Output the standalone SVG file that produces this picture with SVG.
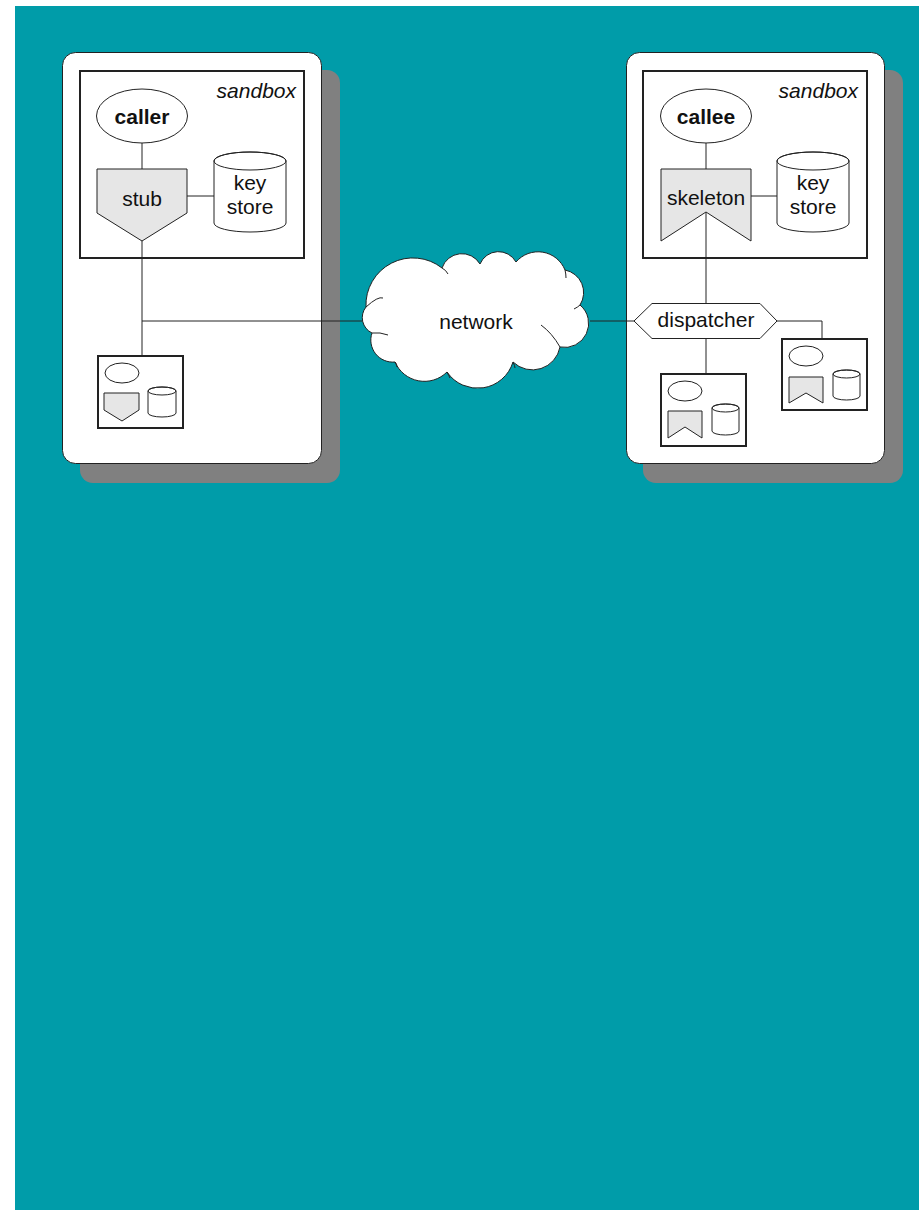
<svg xmlns="http://www.w3.org/2000/svg" width="919" height="1210" viewBox="0 0 919 1210">
<style>
.t{font-family:"Liberation Sans",Arial,sans-serif;font-size:21px;fill:#111;text-anchor:middle}
.b{font-weight:bold}
.i{font-style:italic;text-anchor:end}
.panel{fill:#fff;stroke:#222;stroke-width:1}
.shadow{fill:#808080}
.box{fill:#fff;stroke:#222;stroke-width:2}
.sh{fill:#fff;stroke:#222;stroke-width:1}
.g{fill:#e6e6e6;stroke:#222;stroke-width:1}
.ln{fill:none;stroke:#222;stroke-width:1}
</style>
<rect x="15" y="6" width="904" height="1204" fill="#009CA9"/>
<g id="left-panel">
<rect class="shadow" x="80" y="70" width="260" height="413" rx="13"/>
<rect class="panel" x="62.5" y="52.5" width="259" height="411" rx="13"/>
<rect class="box" x="80" y="71" width="224" height="187"/>
<text class="t i" x="296" y="98">sandbox</text>
</g>
<g id="right-panel">
<rect class="shadow" x="643" y="70" width="260" height="413" rx="13"/>
<rect class="panel" x="626.5" y="52.5" width="258" height="411" rx="13"/>
<rect class="box" x="643" y="71" width="224" height="187"/>
<text class="t i" x="858" y="98">sandbox</text>
</g>
<g id="connectors">
<path class="ln" d="M142,143V169M142,241V356M142,321H365M187,196H214"/>
<path class="ln" d="M706,143V169M706,212V303M590,321H634M751,196H777M777,321H822V339M706,338V374"/>
<path class="ln" d="M122,383V393M139,404H148"/>
<path class="ln" d="M685,401V411M702,422H712"/>
<path class="ln" d="M806,366V377M823,387H833"/>
</g>
<g id="caller">
<ellipse class="sh" cx="142" cy="116" rx="45.5" ry="27"/>
<text class="t b" x="142" y="124">caller</text>
</g>
<g id="stub">
<path class="g" d="M97,169H187V213L142,241L97,213Z"/>
<text class="t" x="142" y="206">stub</text>
</g>
<g id="keystore-left">
<path class="sh" d="M214,161V223A36,9 0 0 0 286,223V161A36,9 0 0 0 214,161Z"/>
<ellipse class="ln" cx="250" cy="161" rx="36" ry="9"/>
<text class="t" x="250" y="190">key</text>
<text class="t" x="250" y="214">store</text>
</g>
<g id="callee">
<ellipse class="sh" cx="706" cy="116" rx="45.5" ry="27"/>
<text class="t b" x="706" y="124">callee</text>
</g>
<g id="skeleton">
<path class="g" d="M661,169H751V241L706,212L661,241Z"/>
<text class="t" x="706" y="205">skeleton</text>
</g>
<g id="keystore-right">
<path class="sh" d="M777,161V223A36,9 0 0 0 849,223V161A36,9 0 0 0 777,161Z"/>
<ellipse class="ln" cx="813" cy="161" rx="36" ry="9"/>
<text class="t" x="813" y="190">key</text>
<text class="t" x="813" y="214">store</text>
</g>
<g id="network">
<path class="sh" d="M366,307A47,47 0 0 1 442,268A21,21 0 0 1 480,264A20,20 0 0 1 516,262A29,29 0 0 1 565,270A23,23 0 0 1 580,305A24,24 0 0 1 560,347A28,28 0 0 1 513,362A37,37 0 0 1 447,372A32,32 0 0 1 395,362A22,22 0 0 1 372,333A17,17 0 0 1 366,307Z"/>
<path class="ln" d="M366,307Q378,296 383,298M372,333Q380,332 388,335M442,268Q446,270 448,274M565,270Q566,274 566,278M580,305Q578,307 574,309M560,347Q552,333 541,325M513,362Q515,366 515,368M447,372Q449,376 450,378M395,362Q397,364 397,367"/>
<text class="t" x="476" y="329">network</text>
</g>
<g id="dispatcher">
<path class="sh" d="M634,321L652,303.5H760L777,321L760,338.5H652Z"/>
<text class="t" x="706" y="327">dispatcher</text>
</g>
<g id="instance-left">
<rect class="box" x="98" y="356" width="85" height="72"/>
<ellipse class="sh" cx="122" cy="373" rx="17" ry="10"/>
<path class="g" d="M104,393H139V410L122,421L104,410Z"/>
<path class="sh" d="M148,391V413A14,4 0 0 0 176,413V391A14,4 0 0 0 148,391Z"/>
<ellipse class="ln" cx="162" cy="391" rx="14" ry="4"/>
</g>
<g id="instance-bottom">
<rect class="box" x="661" y="374" width="85" height="72"/>
<ellipse class="sh" cx="685" cy="391" rx="17" ry="10"/>
<path class="g" d="M668,411H702V438L685,427L668,438Z"/>
<path class="sh" d="M712,408V431A13.5,4 0 0 0 739,431V408A13.5,4 0 0 0 712,408Z"/>
<ellipse class="ln" cx="725.5" cy="408" rx="13.5" ry="4"/>
</g>
<g id="instance-right">
<rect class="box" x="782" y="339" width="85" height="71"/>
<ellipse class="sh" cx="806" cy="356" rx="17" ry="10"/>
<path class="g" d="M789,377H823V403L806,393L789,403Z"/>
<path class="sh" d="M833,374V396A13.5,4 0 0 0 860,396V374A13.5,4 0 0 0 833,374Z"/>
<ellipse class="ln" cx="846.5" cy="374" rx="13.5" ry="4"/>
</g>
</svg>
